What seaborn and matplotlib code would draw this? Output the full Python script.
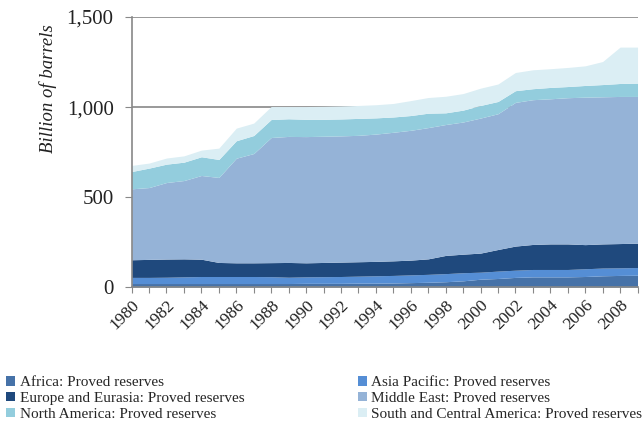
import numpy as np
import pandas as pd
import matplotlib
matplotlib.use("Agg")
import matplotlib.pyplot as plt
import seaborn as sns

years = list(range(1980, 2010))

africa = [20, 20, 20, 20, 20, 20, 20, 20, 20, 20,
          21, 21, 21, 22, 22, 23, 25, 27, 30, 35,
          44, 48, 54, 57, 57, 57, 59, 63, 65, 66]
asia_pacific = [34, 34, 35, 37, 39, 39, 39, 39, 38, 35,
                36, 37, 38, 39, 41, 42, 43, 44, 45, 45,
                39, 41, 40, 41, 41, 41, 43, 43, 42, 43]
europe_eurasia = [98, 100, 101, 100, 96, 78, 76, 76, 78, 82,
                  78, 79, 80, 80, 80, 81, 82, 86, 101, 103,
                  106, 120, 134, 139, 142, 142, 134, 134, 135, 135]
middle_east = [394, 399, 425, 435, 465, 472, 581, 607, 695, 700,
               701, 701, 701, 702, 707, 714, 721, 729, 727, 734,
               750, 754, 798, 804, 806, 812, 819, 817, 817, 815]
north_america = [96, 108, 102, 102, 104, 100, 97, 100, 100, 98,
                 96, 94, 94, 94, 90, 85, 82, 80, 65, 66,
                 70, 68, 65, 61, 63, 62, 65, 68, 72, 74]
south_central_america = [34, 28, 34, 35, 37, 63, 70, 69, 72, 68,
                         71, 72, 72, 72, 73, 75, 83, 87, 92, 92,
                         96, 97, 101, 105, 104, 106, 109, 128, 202, 200]

labels = ["Africa: Proved reserves", "Asia Pacific: Proved reserves",
          "Europe and Eurasia: Proved reserves", "Middle East: Proved reserves",
          "North America: Proved reserves", "South and Central America: Proved reserves"]
colors = ["#4672A8", "#558ED5", "#1F497D", "#95B3D7", "#93CDDD", "#DBEEF4"]

df = pd.DataFrame({
    labels[0]: africa,
    labels[1]: asia_pacific,
    labels[2]: europe_eurasia,
    labels[3]: middle_east,
    labels[4]: north_america,
    labels[5]: south_central_america,
}, index=years)

sns.set_style("white")
plt.rcParams["font.family"] = ["Liberation Serif", "DejaVu Serif"]

fig = plt.figure(figsize=(6.42, 4.26), dpi=100)
ax = fig.add_axes([0.205, 0.326, 0.788, 0.634])

polys = ax.stackplot(df.index, [df[c] for c in df.columns],
                     colors=sns.color_palette(colors), linewidth=0)

ax.set_xlim(1980, 2009)
ax.set_ylim(0, 1500)
ax.set_yticks([0, 500, 1000, 1500])
ax.set_yticklabels(["0", "500", "1,000", "1,500"], fontsize=15, color="#222222")
ax.set_xticks(years)
ax.set_xticklabels([str(y) if y % 2 == 0 else "" for y in years],
                   rotation=45, ha="right", rotation_mode="anchor",
                   fontsize=12.5, color="#222222")
ax.tick_params(axis="x", bottom=True, length=4, color="#888888", pad=3)
ax.tick_params(axis="y", left=True, length=5, color="#888888", pad=8)

ax.set_axisbelow(True)
ax.yaxis.grid(True, color="#888888", linewidth=1.2)
ax.xaxis.grid(False)
sns.despine(ax=ax, top=True, right=True)
for s in ["left", "bottom"]:
    ax.spines[s].set_color("#888888")
    ax.spines[s].set_linewidth(1.2)

ax.text(-0.165, 0.975, "Billion of barrels", transform=ax.transAxes,
        rotation=90, ha="center", va="top", fontsize=13.5, style="italic",
        color="#222222")

order = [0, 2, 4, 1, 3, 5]
fig.legend([polys[i] for i in order], [labels[i] for i in order],
           loc="upper left", bbox_to_anchor=(0.005, 0.125), ncol=2,
           frameon=False, fontsize=11, handlelength=0.6, handleheight=0.6,
           handletextpad=0.3, labelspacing=0.18, columnspacing=7.4,
           borderaxespad=0, borderpad=0.2)

fig.savefig("out.png", dpi=100)
